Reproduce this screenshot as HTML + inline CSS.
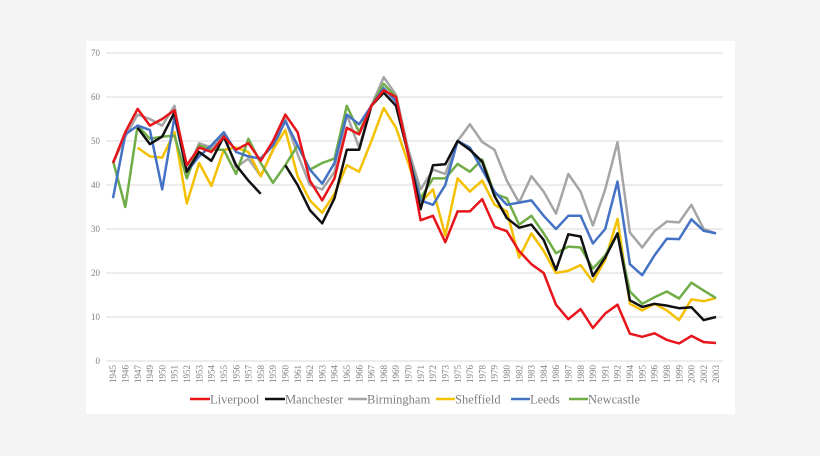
<!DOCTYPE html>
<html><head><meta charset="utf-8"><style>
html,body{margin:0;padding:0;background:#f4f4f4;}
svg{display:block;}
text{font-family:"Liberation Serif",serif;fill:#7f7f7f;}
</style></head><body>
<svg id="s" width="820" height="456" viewBox="0 0 820 456" xmlns="http://www.w3.org/2000/svg">
<rect x="0" y="0" width="820" height="456" fill="#f4f4f4"/>
<rect x="86" y="41" width="649" height="373" fill="#ffffff"/>
<g stroke="#d9d9d9" stroke-width="1">
<line x1="106" x2="723" y1="361" y2="361"/>
<line x1="106" x2="723" y1="317" y2="317"/>
<line x1="106" x2="723" y1="273" y2="273"/>
<line x1="106" x2="723" y1="229" y2="229"/>
<line x1="106" x2="723" y1="185" y2="185"/>
<line x1="106" x2="723" y1="141" y2="141"/>
<line x1="106" x2="723" y1="97" y2="97"/>
<line x1="106" x2="723" y1="53" y2="53"/>
</g>
<g font-size="9" text-anchor="end">
<text x="100" y="364">0</text><text x="100" y="320">10</text><text x="100" y="276">20</text><text x="100" y="232">30</text><text x="100" y="188">40</text><text x="100" y="144">50</text><text x="100" y="100">60</text><text x="100" y="56">70</text>
</g>
<g id="xl" font-size="9" text-anchor="end">
<text transform="translate(113,365) rotate(-90)" dy="0.35em">1945</text>
<text transform="translate(125.3,365) rotate(-90)" dy="0.35em">1946</text>
<text transform="translate(137.6,365) rotate(-90)" dy="0.35em">1947</text>
<text transform="translate(149.9,365) rotate(-90)" dy="0.35em">1949</text>
<text transform="translate(162.2,365) rotate(-90)" dy="0.35em">1950</text>
<text transform="translate(174.5,365) rotate(-90)" dy="0.35em">1951</text>
<text transform="translate(186.8,365) rotate(-90)" dy="0.35em">1952</text>
<text transform="translate(199.1,365) rotate(-90)" dy="0.35em">1953</text>
<text transform="translate(211.4,365) rotate(-90)" dy="0.35em">1954</text>
<text transform="translate(223.8,365) rotate(-90)" dy="0.35em">1955</text>
<text transform="translate(236.1,365) rotate(-90)" dy="0.35em">1956</text>
<text transform="translate(248.4,365) rotate(-90)" dy="0.35em">1957</text>
<text transform="translate(260.7,365) rotate(-90)" dy="0.35em">1958</text>
<text transform="translate(273,365) rotate(-90)" dy="0.35em">1959</text>
<text transform="translate(285.3,365) rotate(-90)" dy="0.35em">1960</text>
<text transform="translate(297.6,365) rotate(-90)" dy="0.35em">1961</text>
<text transform="translate(309.9,365) rotate(-90)" dy="0.35em">1962</text>
<text transform="translate(322.2,365) rotate(-90)" dy="0.35em">1963</text>
<text transform="translate(334.5,365) rotate(-90)" dy="0.35em">1964</text>
<text transform="translate(346.8,365) rotate(-90)" dy="0.35em">1965</text>
<text transform="translate(359.1,365) rotate(-90)" dy="0.35em">1966</text>
<text transform="translate(371.4,365) rotate(-90)" dy="0.35em">1967</text>
<text transform="translate(383.7,365) rotate(-90)" dy="0.35em">1968</text>
<text transform="translate(396,365) rotate(-90)" dy="0.35em">1969</text>
<text transform="translate(408.3,365) rotate(-90)" dy="0.35em">1970</text>
<text transform="translate(420.7,365) rotate(-90)" dy="0.35em">1971</text>
<text transform="translate(433,365) rotate(-90)" dy="0.35em">1972</text>
<text transform="translate(445.3,365) rotate(-90)" dy="0.35em">1973</text>
<text transform="translate(457.6,365) rotate(-90)" dy="0.35em">1975</text>
<text transform="translate(469.9,365) rotate(-90)" dy="0.35em">1976</text>
<text transform="translate(482.2,365) rotate(-90)" dy="0.35em">1978</text>
<text transform="translate(494.5,365) rotate(-90)" dy="0.35em">1979</text>
<text transform="translate(506.8,365) rotate(-90)" dy="0.35em">1980</text>
<text transform="translate(519.1,365) rotate(-90)" dy="0.35em">1982</text>
<text transform="translate(531.4,365) rotate(-90)" dy="0.35em">1983</text>
<text transform="translate(543.7,365) rotate(-90)" dy="0.35em">1984</text>
<text transform="translate(556,365) rotate(-90)" dy="0.35em">1986</text>
<text transform="translate(568.3,365) rotate(-90)" dy="0.35em">1987</text>
<text transform="translate(580.6,365) rotate(-90)" dy="0.35em">1988</text>
<text transform="translate(592.9,365) rotate(-90)" dy="0.35em">1990</text>
<text transform="translate(605.2,365) rotate(-90)" dy="0.35em">1991</text>
<text transform="translate(617.5,365) rotate(-90)" dy="0.35em">1992</text>
<text transform="translate(629.9,365) rotate(-90)" dy="0.35em">1994</text>
<text transform="translate(642.2,365) rotate(-90)" dy="0.35em">1995</text>
<text transform="translate(654.5,365) rotate(-90)" dy="0.35em">1996</text>
<text transform="translate(666.8,365) rotate(-90)" dy="0.35em">1998</text>
<text transform="translate(679.1,365) rotate(-90)" dy="0.35em">1999</text>
<text transform="translate(691.4,365) rotate(-90)" dy="0.35em">2000</text>
<text transform="translate(703.7,365) rotate(-90)" dy="0.35em">2002</text>
<text transform="translate(716,365) rotate(-90)" dy="0.35em">2003</text>
</g>
<g id="lines" fill="none" stroke-width="2.5" stroke-linejoin="round"></g>
<g font-size="12.5">
<line x1="190" x2="210" y1="399" y2="399" stroke="#e8141b" stroke-width="2.5"/><text x="210" y="403.5" fill="#595959">Liverpool</text>
<line x1="265" x2="285" y1="399" y2="399" stroke="#111" stroke-width="2.5"/><text x="285" y="403.5" fill="#595959">Manchester</text>
<line x1="348" x2="367" y1="399" y2="399" stroke="#a5a5a5" stroke-width="2.5"/><text x="367" y="403.5" fill="#595959">Birmingham</text>
<line x1="436" x2="455" y1="399" y2="399" stroke="#f5c000" stroke-width="2.5"/><text x="455" y="403.5" fill="#595959">Sheffield</text>
<line x1="511" x2="530" y1="399" y2="399" stroke="#4472c4" stroke-width="2.5"/><text x="530" y="403.5" fill="#595959">Leeds</text>
<line x1="569" x2="588" y1="399" y2="399" stroke="#70ad47" stroke-width="2.5"/><text x="588" y="403.5" fill="#595959">Newcastle</text>
</g>
</svg>
<script>
var N=null;
var D=[
["#a5a5a5",[45,51,56,55,53.5,58,43,49.5,48.5,51.5,44,46,42,48,55,47,40,39,43,56,48.5,58,64.5,60.5,48,39,43.5,42.5,50,53.8,49.8,48,41,36,42,38.5,33.5,42.5,38.5,30.8,39,49.7,29.2,25.8,29.5,31.7,31.5,35.5,30,29]],
["#f5c000",[N,N,48.5,46.5,46.2,52,35.8,45,39.8,48,48.5,47.5,42,48,52.5,42,36.5,33.7,38,44.5,43,50,57.5,53,45,36,39,28.5,41.5,38.5,41,35.5,34,23.5,29,25,20,20.5,21.8,18,23,32.3,13,11.5,13,11.5,9.3,14,13.6,14.3]],
["#70ad47",[45.5,35,53.5,50.5,51,51.2,41.5,49,48,48,42.5,50.5,45,40.5,44.5,49,43.5,45,46,58,52,58,63,60,47,37,41.5,41.5,44.8,43,45.8,38,37,31,33,29,24.5,26,25.8,21,24,29,15.8,13,14.5,15.8,14.2,17.8,16,14.3]],
["#4472c4",[37,51.5,53.5,52.5,39,55.5,43,46.5,49,52,47.5,46.5,46,49,54.5,49,43.5,40.3,45,56,53.8,58,62,59,47,36.5,35.5,40,50,48.5,43.5,38.5,35.5,36,36.5,33,30,33,33,26.7,30,40.8,22,19.5,24,27.8,27.7,32.2,29.6,29]],
["#111111",[N,N,53,49.3,51,56.5,43,47.5,45.5,51,44.5,41,38,N,44.5,40,34.3,31.3,37,48,48,58,61,58,47,34.5,44.5,44.7,50,48,45.3,37.5,32.5,30.3,31,27.5,20.7,28.8,28.3,19.3,23.5,29,13.8,12.3,13,12.6,12,12.2,9.3,10]],
["#e8141b",[45,52,57.3,53.5,55,57,44.5,48.5,47.5,51,48,49.5,45.5,50,56,52,41,36.5,41.5,53,51.5,58,61.5,60,47,32,33,27,34,34,36.8,30.5,29.5,25,22,20,12.8,9.5,11.8,7.5,10.8,12.8,6.2,5.5,6.3,4.8,4,5.7,4.3,4.1]]
];
var g=document.getElementById('lines'),ns="http://www.w3.org/2000/svg";
D.forEach(function(s){var segs=[],cur=[];s[1].forEach(function(v,i){if(v===null){if(cur.length)segs.push(cur);cur=[];}else cur.push((113+i*12.306).toFixed(1)+","+(361-v*4.4).toFixed(1));});if(cur.length)segs.push(cur);
segs.forEach(function(c){var p=document.createElementNS(ns,"polyline");p.setAttribute("points",c.join(" "));p.setAttribute("stroke",s[0]);g.appendChild(p);});});
</script>
</body></html>
